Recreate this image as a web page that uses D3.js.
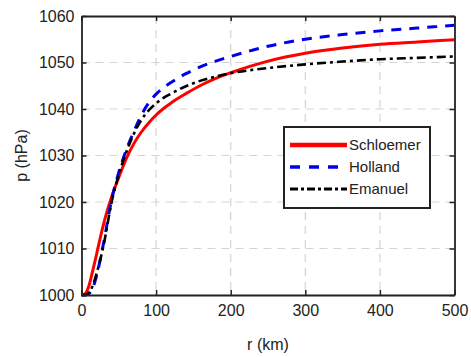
<!DOCTYPE html>
<html>
<head>
<meta charset="utf-8">
<script src="https://cdn.jsdelivr.net/npm/d3@7"></script>
<style>
  body { margin: 0; background: #fff; }
  text { font-family: "Liberation Sans", Arial, sans-serif; fill: #222; }
</style>
</head>
<body>
<svg id="chart"></svg>
<script>
// radius (km) and pressure (hPa)
const radius = [0, 5, 10, 15, 20, 25, 30, 40, 50, 60, 70, 80, 90, 100, 110, 120, 140, 160, 180, 200, 250, 300, 350, 400, 450, 500];
const schloemer = [1000, 1000.3, 1002, 1005.2, 1008.6, 1012.2, 1015.5, 1020.9, 1025.3, 1029.3, 1032.5, 1035, 1037, 1038.7, 1040.1, 1041.3, 1043.3, 1045.1, 1046.6, 1047.8, 1050.3, 1052, 1053.1, 1053.9, 1054.4, 1054.9];
const holland = [1000, 1000, 1000.3, 1001.5, 1004, 1007.5, 1011.5, 1020.2, 1026.4, 1031.2, 1035.1, 1038.6, 1041.3, 1043.2, 1044.6, 1045.7, 1047.6, 1049.1, 1050.3, 1051.3, 1053.5, 1055, 1056, 1056.8, 1057.4, 1058];
const emanuel = [1000, 1000, 1000.5, 1002, 1004.5, 1007.5, 1011, 1019.7, 1025.9, 1030.7, 1034.6, 1037.6, 1039.7, 1041.2, 1042.4, 1043.3, 1044.9, 1046.1, 1047, 1047.7, 1048.8, 1049.6, 1050.2, 1050.7, 1051, 1051.3];

const seriesNames = ["Schloemer", "Holland", "Emanuel"];
const xTicks = [0, 100, 200, 300, 400, 500];
const yTicks = [1000, 1010, 1020, 1030, 1040, 1050, 1060];

const WIDTH = 471, HEIGHT = 357;
const margin = { left: 81.5, right: 16.5, top: 16, bottom: 62 };

const svg = d3.select("#chart").attr("width", WIDTH).attr("height", HEIGHT);

const x = d3.scaleLinear().domain([0, 500]).range([margin.left, WIDTH - margin.right]);
const y = d3.scaleLinear().domain([1000, 1060]).range([HEIGHT - margin.bottom, margin.top]);

// grid lines
svg.append("g").selectAll("line").data(xTicks.slice(1, -1)).enter().append("line")
  .attr("x1", d => x(d)).attr("x2", d => x(d))
  .attr("y1", y(1060)).attr("y2", y(1000))
  .attr("stroke", "#d4d4d4").attr("stroke-width", 1.2).attr("stroke-dasharray", "8,6");
svg.append("g").selectAll("line").data(yTicks.slice(1, -1)).enter().append("line")
  .attr("x1", x(0)).attr("x2", x(500))
  .attr("y1", d => y(d)).attr("y2", d => y(d))
  .attr("stroke", "#d4d4d4").attr("stroke-width", 1.2).attr("stroke-dasharray", "8,6");

// series lines
const line = d3.line().x((d, i) => x(radius[i])).y(d => y(d)).curve(d3.curveMonotoneX);
const styles = [
  { data: schloemer, color: "#ff0000", width: 3, dash: null },
  { data: holland, color: "#0000ee", width: 3, dash: "10,8" },
  { data: emanuel, color: "#000", width: 2.6, dash: "9,4,3,4" }
];
styles.forEach(s => {
  svg.append("path").datum(s.data)
    .attr("d", line)
    .attr("fill", "none")
    .attr("stroke", s.color)
    .attr("stroke-width", s.width)
    .attr("stroke-dasharray", s.dash);
});

// axes with box and mirrored ticks
const axisColor = "#222";
const fmt = d3.format("d");
svg.append("g").attr("transform", `translate(0,${y(1000)})`)
  .call(d3.axisBottom(x).tickValues(xTicks).tickFormat(fmt).tickSizeInner(-5).tickSizeOuter(0).tickPadding(10))
  .call(g => g.selectAll("text").attr("font-size", 16).attr("dy", "0.71em"));
svg.append("g").attr("transform", `translate(${x(0)},0)`)
  .call(d3.axisLeft(y).tickValues(yTicks).tickFormat(fmt).tickSizeInner(-5).tickSizeOuter(0).tickPadding(7))
  .call(g => g.selectAll("text").attr("font-size", 16));
svg.append("g").attr("transform", `translate(0,${y(1060)})`)
  .call(d3.axisTop(x).tickValues(xTicks).tickSizeInner(-5).tickSizeOuter(0).tickFormat(""));
svg.append("g").attr("transform", `translate(${x(500)},0)`)
  .call(d3.axisRight(y).tickValues(yTicks).tickSizeInner(-5).tickSizeOuter(0).tickFormat(""));
svg.selectAll(".domain").attr("stroke", axisColor).attr("stroke-width", 1.8);
svg.selectAll(".tick line").attr("stroke", axisColor).attr("stroke-width", 1.5);
svg.selectAll(".tick text").attr("fill", "#222");

// axis labels
svg.append("text").attr("x", (x(0) + x(500)) / 2).attr("y", 350)
  .attr("text-anchor", "middle").attr("font-size", 16).text("r (km)");
svg.append("text").attr("transform", `translate(27,${(y(1000) + y(1060)) / 2}) rotate(-90)`)
  .attr("text-anchor", "middle").attr("font-size", 16).text("p (hPa)");

// legend
const legend = svg.append("g").attr("transform", "translate(284,127)");
legend.append("rect").attr("width", 146).attr("height", 81)
  .attr("fill", "#fff").attr("stroke", "#222").attr("stroke-width", 2);
styles.forEach((s, i) => {
  const ly = 18 + i * 22;
  legend.append("line").attr("x1", 6).attr("x2", 63).attr("y1", ly).attr("y2", ly)
    .attr("stroke", s.color).attr("stroke-width", s.width + (i === 0 ? 1.5 : 0.5))
    .attr("stroke-dasharray", i === 1 ? "10,9" : i === 2 ? "8,3,3,3" : null);
  legend.append("text").attr("x", 65).attr("y", ly).attr("dy", "0.35em")
    .attr("font-size", 15).text(seriesNames[i]);
});
</script>
</body>
</html>
